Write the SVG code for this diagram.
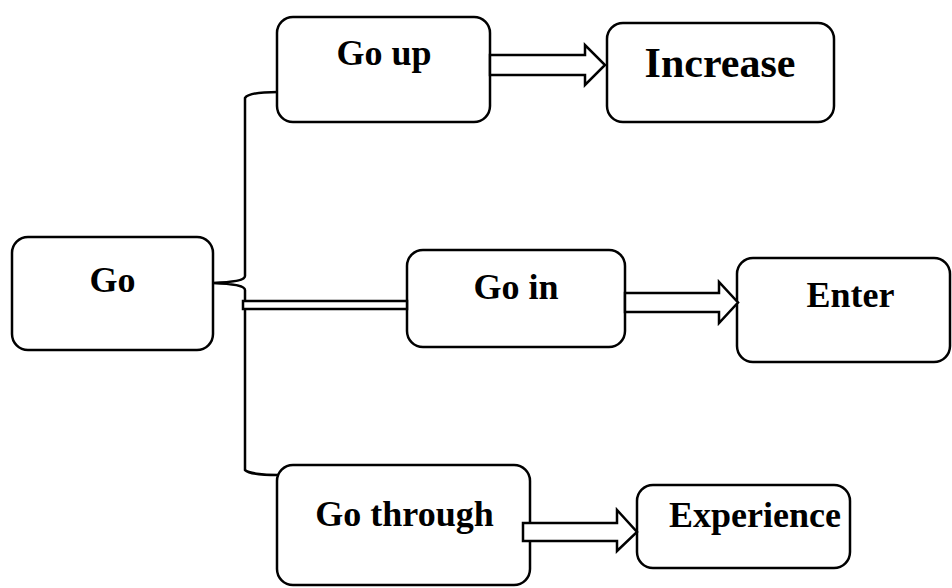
<svg xmlns="http://www.w3.org/2000/svg" width="952" height="588" viewBox="0 0 952 588">
  <style>
    .box { fill: #ffffff; stroke: #000000; stroke-width: 2.5; }
    .lbl { font-family: "Liberation Serif", "Times New Roman", serif; font-weight: bold; font-size: 36px; fill: #000000; text-anchor: middle; }
    .big { font-size: 42px; }
    .line { fill: none; stroke: #000000; stroke-width: 2.5; }
    .arrow { fill: #ffffff; stroke: #000000; stroke-width: 2.5; stroke-linejoin: miter; }
  </style>
  <rect width="952" height="588" fill="#ffffff"/>

  <g id="node-go">
    <rect class="box" x="12" y="237" width="201" height="113" rx="16"/>
    <text class="lbl" x="112.5" y="292">Go</text>
  </g>
  <g id="node-go-up">
    <rect class="box" x="277" y="17" width="213" height="105" rx="16"/>
    <text class="lbl" x="384" y="65">Go up</text>
  </g>
  <g id="node-increase">
    <rect class="box" x="607" y="23" width="227" height="99" rx="16"/>
    <text class="lbl big" x="720" y="77">Increase</text>
  </g>
  <g id="node-go-in">
    <rect class="box" x="407" y="250" width="218" height="97" rx="16"/>
    <text class="lbl" x="516" y="299">Go in</text>
  </g>
  <g id="node-enter">
    <rect class="box" x="737" y="258" width="213" height="104" rx="16"/>
    <text class="lbl" x="850.5" y="307">Enter</text>
  </g>
  <g id="node-go-through">
    <rect class="box" x="277" y="465" width="253" height="120" rx="16"/>
    <text class="lbl" x="404.5" y="526">Go through</text>
  </g>
  <g id="node-experience">
    <rect class="box" x="637" y="485" width="213" height="83" rx="16"/>
    <text class="lbl" x="755" y="527">Experience</text>
  </g>

  <g id="connectors">
    <path class="line" d="M278,92 C262,92 248,93 245,98 L245,276 C245,280 236,282 213,283 C236,284 245,286 245,290 L245,470 C248,473 262,475 278,475"/>
    <rect class="arrow" x="243" y="301" width="164" height="8"/>
    <polygon class="arrow" points="490,55 585,55 585,45 605,65 585,85 585,75 490,75"/>
    <polygon class="arrow" points="625,293 719,293 719,282 738,302.5 719,323 719,312 625,312"/>
    <polygon class="arrow" points="523,523 617,523 617,510 637,532 617,551 617,541 523,541"/>
  </g>
</svg>
